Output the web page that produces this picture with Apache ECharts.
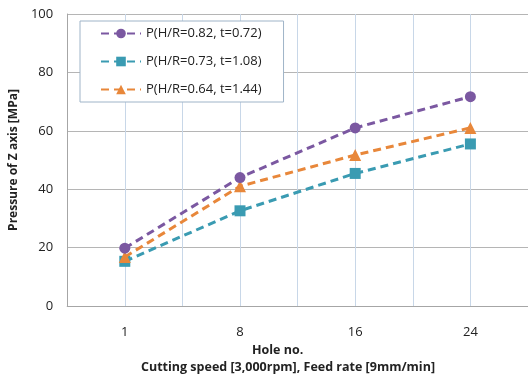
<!DOCTYPE html>
<html>
<head>
<meta charset="utf-8">
<script src="https://cdn.jsdelivr.net/npm/echarts@6/dist/echarts.min.js"></script>
<style>
  html, body { margin: 0; padding: 0; background: #ffffff; }
  #chart { width: 528px; height: 380px; }
</style>
</head>
<body>
<div id="chart"></div>
<script>
const holes = ['1', '8', '16', '24'];
const gridSlots = ['', '', '', '', '', '', '', ''];
const seriesNames = ['P(H/R=0.82, t=0.72)', 'P(H/R=0.73, t=1.08)', 'P(H/R=0.64, t=1.44)'];
const p082 = [19.8, 44, 61, 71.7];
const p073 = [15.3, 32.6, 45.4, 55.5];
const p064 = [16.8, 41, 51.7, 61];

const colors = ['#7b58a1', '#3a9bb2', '#e8873a'];
const symbols = ['circle', 'rect', 'triangle'];
const symbolSizes = [11, 11, 12];
const values = [p082, p073, p064];
const zs = [5, 3, 4];

const font = '"Open Sans", sans-serif';
const chart = echarts.init(document.getElementById('chart'));

chart.setOption({
  animation: false,
  backgroundColor: '#ffffff',
  grid: { left: 67, right: 0, top: 14, bottom: 74 },
  legend: {
    orient: 'vertical',
    left: 80,
    top: 21,
    width: 203,
    padding: [6, 22, 6, 20],
    itemGap: 15,
    itemWidth: 40,
    itemHeight: 12,
    backgroundColor: '#ffffff',
    borderColor: '#9fb4c8',
    borderWidth: 1,
    borderRadius: 0,
    textStyle: { fontFamily: font, fontSize: 13, color: '#222' },
    data: seriesNames,
  },
  xAxis: [
    {
      type: 'category',
      data: holes,
      boundaryGap: true,
      axisLine: { show: true, lineStyle: { color: '#a6a6a6' } },
      axisTick: { show: false },
      axisLabel: { margin: 20, fontFamily: font, fontSize: 13, color: '#222' },
      splitLine: { show: false },
    },
    {
      type: 'category',
      data: gridSlots,
      boundaryGap: true,
      position: 'bottom',
      axisLine: { show: false },
      axisTick: { show: false },
      axisLabel: { show: false },
      splitLine: { show: true, lineStyle: { color: '#c8d7e8', width: 1 } },
    },
  ],
  yAxis: {
    type: 'value',
    min: 0,
    max: 100,
    interval: 20,
    name: 'Pressure of Z axis [MPa]',
    nameLocation: 'middle',
    nameGap: 44,
    nameTextStyle: { fontFamily: font, fontSize: 12, fontWeight: 'bold', color: '#222' },
    axisLine: { show: true, lineStyle: { color: '#a6a6a6' } },
    axisTick: { show: false },
    axisLabel: { margin: 14, fontFamily: font, fontSize: 13, color: '#222' },
    splitLine: { show: true, lineStyle: { color: '#b5b5b5', width: 1 } },
  },
  graphic: [
    {
      type: 'text',
      left: 252,
      top: 344,
      style: { text: 'Hole no.', font: 'bold 12.5px ' + font, fill: '#222' },
    },
    {
      type: 'text',
      left: 141,
      top: 361,
      style: {
        text: 'Cutting speed [3,000rpm], Feed rate [9mm/min]',
        font: 'bold 12.5px ' + font,
        fill: '#222',
      },
    },
  ],
  series: seriesNames.map((name, i) => ({
    name,
    type: 'line',
    data: values[i],
    symbol: symbols[i],
    symbolSize: symbolSizes[i],
    showAllSymbol: true,
    z: zs[i],
    itemStyle: { color: colors[i] },
    lineStyle: { color: colors[i], width: 3, type: [8, 5] },
  })),
});
</script>
</body>
</html>
